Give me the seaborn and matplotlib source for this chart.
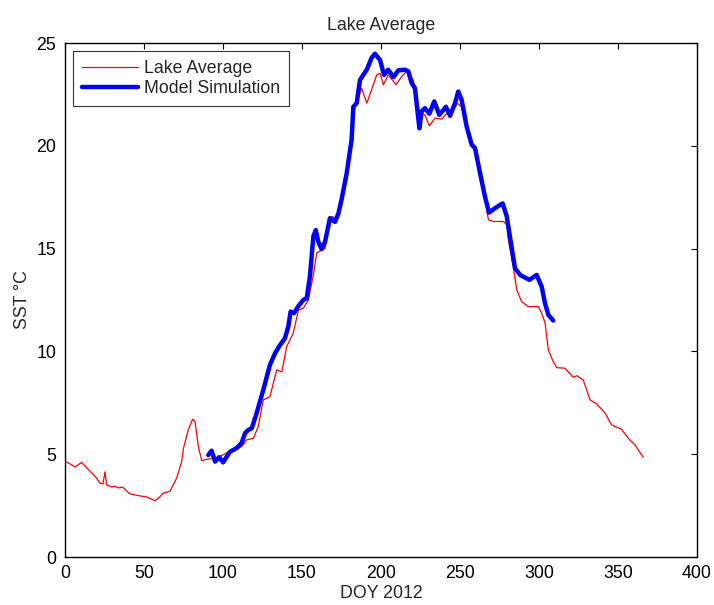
import matplotlib
matplotlib.use("Agg")
import matplotlib.pyplot as plt
import seaborn as sns
import pandas as pd

# Lake Average (observed) SST
lake_day = [0, 6.3, 10.5, 18, 20, 22, 24, 25.3, 26.4, 29.5, 31.6, 33.5, 36.5, 41, 47.5, 51.7,
            57, 60, 62, 66.5, 70.7, 73.8, 75, 78, 80.8, 82.3, 84.4, 86.5, 90.7, 96, 102, 111.8,
            115, 119.2, 122.3, 125.5, 129.7, 134, 137.2, 140.3, 144.5, 147.7, 150.8, 154, 157.2,
            159.3, 162.4, 164.6, 166.6, 168.8, 172, 174, 178.3, 183.5, 187.8, 191, 194, 197.3,
            199.4, 201.5, 204.6, 209.5, 213.1, 216.3, 220.4, 223.6, 224.7, 227.8, 230.6, 234.2,
            238.4, 241.6, 245.8, 248.3, 251, 257.4, 260.6, 264, 268, 271.1, 277.4, 279.6, 280.6,
            283.7, 285.9, 289, 293.2, 299.6, 301.7, 303.8, 304.9, 305.9, 309, 311.2, 316.5,
            321.7, 323.9, 328, 332.3, 336.5, 341.8, 346, 352.3, 356.5, 360.8, 366]
lake_sst = [4.67, 4.38, 4.6, 4.0, 3.84, 3.6, 3.55, 4.14, 3.5, 3.4, 3.45, 3.36, 3.4, 3.07, 2.97, 2.92,
            2.74, 2.92, 3.1, 3.2, 3.84, 4.63, 5.29, 6.18, 6.7, 6.6, 5.37, 4.69, 4.77, 4.8, 5.05, 5.37,
            5.7, 5.77, 6.34, 7.64, 7.8, 9.1, 9.0, 10.23, 10.9, 12.0, 12.1, 12.5, 13.72,
            14.78, 14.94, 15.0, 15.9, 16.56, 16.48, 17.05, 18.35, 21.9, 22.8, 22.07, 22.72, 23.45,
            23.53, 22.97, 23.45, 22.97, 23.37, 23.62, 23.2, 21.9, 21.6, 21.5, 20.97, 21.35,
            21.3, 21.56, 21.75, 22.07, 21.9, 20.13, 19.8, 18.2, 16.4, 16.32, 16.32, 16.16, 15.43,
            14.13, 13.0, 12.42, 12.18, 12.18, 11.86, 11.4, 10.72, 10.07, 9.5, 9.21, 9.18,
            8.74, 8.82, 8.61, 7.64, 7.45, 7.0, 6.42, 6.21, 5.77, 5.45, 4.85]

# Model Simulation SST
model_day = [90.7, 92.8, 95, 97.6, 100, 104.4, 108.7, 111.8, 114, 116, 118.2, 121.3, 125.5, 129.7,
             132.9, 136, 139.2, 141.3, 142.8, 144.9, 147.7, 150.8, 153, 155, 157.2, 158.7, 160.3,
             162.4, 164.6, 167.7, 170.9, 173, 175, 178.3, 181.4, 182.5, 184.6, 186.7, 188.8, 191,
             194, 196.2, 198.3, 199.4, 201.9, 204.6, 207.8, 211, 215.2, 217.3, 219.4, 221.5, 224.3,
             225.7, 227.8, 230.6, 233.7, 236.9, 241.1, 243.7, 246.8, 248.9, 251, 254.2, 257.4,
             259.5, 262.7, 265.8, 268.4, 272.2, 277, 279.6, 281.6, 284.8, 288, 293.9, 298.5,
             301.7, 303.8, 305.9, 309]
model_sst = [4.96, 5.17, 4.64, 4.86, 4.6, 5.12, 5.3, 5.55, 6.03, 6.18, 6.26, 7.0, 8.13, 9.34,
             9.9, 10.3, 10.64, 11.2, 11.94, 11.86, 12.2, 12.5, 12.59, 13.64, 15.6, 15.9, 15.34,
             14.97, 15.34, 16.48, 16.3, 16.7, 17.37, 18.67, 20.3, 21.9, 22.07, 23.2, 23.45, 23.7,
             24.27, 24.48, 24.27, 24.18, 23.45, 23.7, 23.34, 23.67, 23.7, 23.62, 23.05, 22.8, 20.85,
             21.67, 21.83, 21.56, 22.16, 21.5, 21.9, 21.46, 22.07, 22.64, 22.24, 20.94, 20.05,
             19.89, 18.67, 17.53, 16.75, 16.97, 17.2, 16.56, 15.58, 14.05, 13.72, 13.48, 13.72,
             13.15, 12.34, 11.78, 11.5]

x_ticks = [0, 50, 100, 150, 200, 250, 300, 350, 400]
y_ticks = [0, 5, 10, 15, 20, 25]

sns.set_style("white")
plt.rcParams['font.family'] = ['Liberation Sans', 'DejaVu Sans']
FS = 12.8

lake_df = pd.DataFrame({"DOY": lake_day, "SST": lake_sst})
model_df = pd.DataFrame({"DOY": model_day, "SST": model_sst})

fig = plt.figure(figsize=(7.14, 6.05), dpi=100)
ax = fig.add_axes([65 / 714, 1 - 557 / 605, (697 - 65) / 714, (557 - 43) / 605])

sns.lineplot(data=lake_df, x="DOY", y="SST", ax=ax, color="#ff0000", linewidth=0.9,
             label="Lake Average", sort=False)
sns.lineplot(data=model_df, x="DOY", y="SST", ax=ax, color="#0000ff", linewidth=3.2,
             label="Model Simulation", sort=False)

ax.set_xlim(0, 400)
ax.set_ylim(0, 25)
ax.set_xticks(x_ticks)
ax.set_yticks(y_ticks)
ax.tick_params(direction="in", length=4, width=0.8, top=True, right=True, labelsize=FS,
               colors="black")
ax.tick_params(axis="x", pad=6)
ax.tick_params(axis="y", pad=6.3)
for s in ax.spines.values():
    s.set_visible(True)
    s.set_color("black")
    s.set_linewidth(1.0)

ax.set_title("Lake Average", fontsize=FS, pad=9)
ax.set_xlabel("DOY 2012", fontsize=FS, labelpad=2)
ax.set_ylabel("SST °C", fontsize=FS, labelpad=4)

leg = ax.legend(loc="upper left", fontsize=FS, frameon=True, fancybox=False,
                borderpad=0.5, handlelength=3.15, handletextpad=0.35, labelspacing=0.2,
                borderaxespad=0.45, bbox_to_anchor=(0.0, 1.0))
leg.get_frame().set_edgecolor("black")
leg.get_frame().set_linewidth(0.8)

fig.savefig("out.png", dpi=100, facecolor="white")
